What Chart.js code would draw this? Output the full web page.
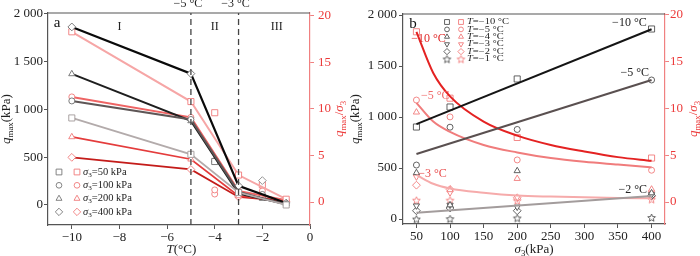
<!DOCTYPE html>
<html><head><meta charset="utf-8">
<script src="https://cdn.jsdelivr.net/npm/chart.js@4.4.0/dist/chart.umd.min.js"></script>
<style>
html,body{margin:0;padding:0;background:#fff;overflow:hidden}
#wrap{position:relative;width:700px;height:256px}
canvas{position:absolute;top:0}
</style></head><body>
<div id="wrap">
<canvas id="ca" width="350" height="256" style="left:0"></canvas>
<canvas id="cb" width="350" height="256" style="left:350px"></canvas>
</div>
<script>
// ---------- DATA ----------
// Panel a : q_max and q_max/σ3 vs T
const tempTicks = [-10, -8, -6, -4, -2, 0];
const tempsLine = [-10, -5, -3, -1];
const qA50  = [911, 530, 130, 0];
const qA100 = [1089, 895, 135, 5];
const qA200 = [1372, 880, 120, 10];
const qA400 = [1864, 1375, 200, 20];
const rA50  = [18.3, 10.8, 2.9, 0.3];
const rA100 = [11.3, 9.1, 1.2, 0.2];
const rA200 = [7.0, 4.6, 0.65, 0.15];
const rA400 = [4.8, 3.5, 0.55, 0.1];
const tempsIso = [-4, -2];
const qIso50  = [455, 80];
const qIso100 = [null, 110];
const qIso200 = [470, 85];
const qIso400 = [null, 255];
const rIso50  = [9.6, 1.85];
const rIso100 = [1.3, 1.2];
const rIso200 = [0.86, null];
const dashT = [-5, -3];
const legendA = ['50', '100', '200', '400'];

// Panel b : q_max and q_max/σ3 vs σ3
const sigma3 = [50, 100, 200, 400];
const sigmaTicks = [50, 100, 150, 200, 250, 300, 350, 400];
const qT10 = [902, 1098, 1373, 1863];
const qT5  = [529, 900, 878, 1363];
const qT4  = [453, 137, 472, 255];
const qT3  = [130, 137, 118, 240];
const qT2  = [81, 108, 81, 230];
const qT1  = [0, 3, 10, 15];
const rT10 = [18.2, 11.1, 6.9, 4.7];
const rT5  = [10.9, 9.1, 4.5, 3.4];
const rT4  = [9.6, 1.3, 2.5, 1.36];
const rT3  = [2.7, 1.0, 0.5, 0.9];
const rT2  = [1.8, 1.35, 0.45, 0.6];
const rT1  = [0.2, 0.2, 0.15, 0.3];
const fitSig = [50, 400];
const fitQ10 = [930, 1860];
const fitQ5  = [637, 1363];
const fitQ2  = [62, 225];
const curveSig = [50, 75, 100, 150, 200, 250, 300, 350, 400];
const fitR10 = [18.2, 13.8, 11.3, 8.6, 7.1, 6.1, 5.4, 4.8, 4.4];
const fitR5  = [10.6, 8.6, 7.5, 6.1, 5.3, 4.7, 4.3, 4.0, 3.7];
const fitR3  = [2.9, 1.95, 1.45, 1.0, 0.7, 0.58, 0.5, 0.44, 0.4];
const legendB = ['−10', '−5', '−4', '−3', '−2', '−1'];

const qTicks = [0, 500, 1000, 1500, 2000];
const qTickLabels = ['0', '500', '1 000', '1 500', '2 000'];
const rTicks = [0, 5, 10, 15, 20];

// ---------- HELPERS ----------
const SERIF = '"Liberation Serif", "Times New Roman", serif';
Chart.defaults.font.family = SERIF;
const minus = v => v < 0 ? '−' + Math.abs(v) : String(v);
const pts = (xs, ys) => xs.map((x, i) => ({x: x, y: ys[i]})).filter(p => p.y !== null && p.y !== undefined);

function starImg(color, R) {
  const c = document.createElement('canvas');
  const s = Math.ceil(R * 2 + 3); c.width = s; c.height = s;
  const g = c.getContext('2d');
  g.beginPath();
  for (let i = 0; i < 10; i++) {
    const r = i % 2 ? R * 0.45 : R;
    const a = -Math.PI / 2 + i * Math.PI / 5;
    g.lineTo(s / 2 + r * Math.cos(a), s / 2 + 0.5 + r * Math.sin(a));
  }
  g.closePath(); g.fillStyle = '#fff'; g.fill();
  g.strokeStyle = color; g.lineWidth = 0.9; g.stroke();
  return c;
}
const MK = {
  sq: {ps: 'rect', r: 4.3, rot: 0},
  ci: {ps: 'circle', r: 3.0, rot: 0},
  tr: {ps: 'triangle', r: 3.6, rot: 0},
  tv: {ps: 'triangle', r: 3.6, rot: 180},
  di: {ps: 'rectRot', r: 3.9, rot: 0}
};
function mk(key, color) {
  if (key === 'st') return {ps: starImg(color, 4), r: 4, rot: 0};
  return MK[key];
}
function ds(xs, ys, axis, o) {
  const m = o.mk ? mk(o.mk, o.mc) : {ps: 'circle', r: 0, rot: 0};
  return {
    data: pts(xs, ys), yAxisID: axis, showLine: !!o.line,
    borderColor: o.line || o.mc, borderWidth: o.lw || 1.5, borderDash: o.dash || [],
    pointStyle: m.ps, pointRadius: o.mk ? m.r : 0, pointRotation: m.rot,
    pointBorderColor: o.mc || '#000', pointBackgroundColor: '#fff', pointBorderWidth: 0.9,
    pointHoverRadius: 0, tension: o.tension || 0, cubicInterpolationMode: o.cubic ? 'monotone' : 'default',
    order: o.order || 0, fill: false, clip: 0
  };
}
function fontFor(p, size) {
  const s = p.sub ? size * 0.68 : size;
  return (p.it ? 'italic ' : '') + s + 'px ' + SERIF;
}
function drawRich(ctx, parts, x, y, size, color, rot, align) {
  ctx.save(); ctx.translate(x, y); ctx.rotate(rot || 0);
  let w = 0;
  for (const p of parts) { ctx.font = fontFor(p, size); w += ctx.measureText(p.t).width; }
  let cx = align === 'left' ? 0 : align === 'right' ? -w : -w / 2;
  ctx.fillStyle = color; ctx.textBaseline = 'middle'; ctx.textAlign = 'left';
  for (const p of parts) {
    ctx.font = fontFor(p, size);
    ctx.fillText(p.t, cx, p.sub ? size * 0.28 : 0);
    cx += ctx.measureText(p.t).width;
  }
  ctx.restore();
}
function drawMarker(ctx, key, color, x, y, scale) {
  const m = mk(key, color);
  ctx.save();
  ctx.strokeStyle = color; ctx.fillStyle = '#fff'; ctx.lineWidth = 0.9;
  Chart.helpers.drawPoint(ctx, {pointStyle: m.ps, radius: m.r * (scale || 1), rotation: m.rot, borderWidth: 0.9}, x, y);
  ctx.restore();
}
const tickFont = {family: SERIF, size: 13};
function axisX(min, max, ticks, h, fmt) {
  return {
    type: 'linear', min: min, max: max,
    afterBuildTicks: s => { s.ticks = ticks.map(v => ({value: v})); },
    afterFit: s => { s.height = h; },
    ticks: {callback: fmt, font: tickFont, color: '#222', padding: 1, maxRotation: 0, autoSkip: false},
    grid: {drawOnChartArea: false, drawTicks: true, tickLength: 4, color: '#555', lineWidth: 1},
    border: {color: '#555', width: 1.2}
  };
}
function axisY(min, max, ticks, w, fmt, pos, color, tcolor, pad) {
  return {
    type: 'linear', position: pos, min: min, max: max,
    afterBuildTicks: s => { s.ticks = ticks.map(v => ({value: v})); },
    afterFit: s => { s.width = w; },
    ticks: {callback: fmt, font: tickFont, color: tcolor, padding: pad, autoSkip: false},
    grid: {drawOnChartArea: false, drawTicks: true, tickLength: 4, color: color, lineWidth: 1},
    border: {color: color, width: 1.2}
  };
}
const qFmt = v => qTickLabels[qTicks.indexOf(v)];
const RED_AX = '#f08080', RED_TXT = '#ec3a3a';

// ---------- PANEL A ----------
const GRAYM = '#6e6e6e', REDM = '#f07a7a';
const dsA = [
  ds([dashT[0], dashT[0]], [-210, 2010], 'y', {line: '#444', lw: 1.3, dash: [6, 4]}),
  ds([dashT[1], dashT[1]], [-210, 2010], 'y', {line: '#444', lw: 1.3, dash: [6, 4]}),
  ds(tempsLine, qA50, 'y', {line: '#b3abab', lw: 1.8, mk: 'sq', mc: '#a09898'}),
  ds(tempsLine, qA100, 'y', {line: '#5e5656', lw: 2, mk: 'ci', mc: GRAYM}),
  ds(tempsLine, qA200, 'y', {line: '#1e1e1e', lw: 2, mk: 'tr', mc: GRAYM}),
  ds(tempsLine, qA400, 'y', {line: '#0a0a0a', lw: 2.2, mk: 'di', mc: GRAYM}),
  ds(tempsLine, rA50, 'y2', {line: '#f6a6a6', lw: 2, mk: 'sq', mc: REDM}),
  ds(tempsLine, rA100, 'y2', {line: '#ee6464', lw: 2, mk: 'ci', mc: REDM}),
  ds(tempsLine, rA200, 'y2', {line: '#e43c3c', lw: 1.8, mk: 'tr', mc: REDM}),
  ds(tempsLine, rA400, 'y2', {line: '#c41c1a', lw: 1.8, mk: 'di', mc: REDM}),
  ds(tempsIso, qIso50, 'y', {mk: 'sq', mc: GRAYM}),
  ds(tempsIso, qIso100, 'y', {mk: 'ci', mc: GRAYM}),
  ds(tempsIso, qIso200, 'y', {mk: 'tr', mc: GRAYM}),
  ds(tempsIso, qIso400, 'y', {mk: 'di', mc: '#8a8a8a'}),
  ds(tempsIso, rIso50, 'y2', {mk: 'sq', mc: REDM}),
  ds(tempsIso, rIso100, 'y2', {mk: 'ci', mc: REDM}),
  ds(tempsIso, rIso200, 'y2', {mk: 'ci', mc: REDM})
];
const plugA = {
  id: 'pa',
  afterDraw(chart) {
    const {ctx, chartArea: a, scales} = chart;
    const x = scales.x, y = scales.y;
    ctx.save();
    ctx.strokeStyle = '#555'; ctx.lineWidth = 1.2;
    ctx.beginPath(); ctx.moveTo(a.left, a.top); ctx.lineTo(a.right, a.top); ctx.stroke();
    dashT.forEach(t => drawRich(ctx, [{t: minus(t) + ' °C'}], x.getPixelForValue(t) - 3, 4, 12, '#222'));
    const ry = y.getPixelForValue(1870);
    drawRich(ctx, [{t: 'I'}], x.getPixelForValue(-8), ry, 12, '#222');
    drawRich(ctx, [{t: 'II'}], x.getPixelForValue(-4), ry, 12, '#222');
    drawRich(ctx, [{t: 'III'}], x.getPixelForValue(-1.4), ry, 12, '#222');
    drawRich(ctx, [{t: 'a'}], a.left + 9, a.top + 10, 15, '#111');
    drawRich(ctx, [{t: 'q', it: 1}, {t: 'max', sub: 1}, {t: '(kPa)'}], 7, (a.top + a.bottom) / 2, 13, '#222', -Math.PI / 2);
    drawRich(ctx, [{t: 'q', it: 1}, {t: 'max', sub: 1}, {t: '/'}, {t: 'σ', it: 1}, {t: '3', sub: 1}], 340, (a.top + a.bottom) / 2, 13, RED_TXT, -Math.PI / 2);
    drawRich(ctx, [{t: 'T', it: 1}, {t: '(°C)'}], x.getPixelForValue(-5.4), 250, 13, '#222');
    const keys = ['sq', 'ci', 'tr', 'di'];
    legendA.forEach((s, i) => {
      const ly = a.top + 159 + i * 13.3;
      drawMarker(ctx, keys[i], '#777', 59, ly, 0.95);
      drawMarker(ctx, keys[i], REDM, 77, ly, 0.95);
      drawRich(ctx, [{t: 'σ', it: 1}, {t: '3', sub: 1}, {t: '=' + s + ' kPa'}], 83, ly, 10.5, '#222', 0, 'left');
    });
    ctx.restore();
  }
};
new Chart(document.getElementById('ca'), {
  type: 'scatter',
  data: {datasets: dsA},
  options: {
    responsive: false, animation: false, events: [],
    layout: {padding: {top: 13, left: 0, right: 0, bottom: 0}},
    plugins: {legend: {display: false}, tooltip: {enabled: false}},
    scales: {
      x: axisX(-11, 0, tempTicks, 31, v => minus(v)),
      y: axisY(-210, 2010, qTicks, 48, qFmt, 'left', '#555', '#222', 1),
      y2: axisY(-2.47, 20.32, rTicks, 40, v => String(v), 'right', RED_AX, RED_TXT, 4)
    }
  },
  plugins: [plugA]
});

// ---------- PANEL B ----------
const BM = '#505050', RM = '#f27c7c';
const dsB = [
  ds(fitSig, fitQ10, 'y', {line: '#151515', lw: 2}),
  ds(fitSig, fitQ5, 'y', {line: '#5a5050', lw: 2}),
  ds(fitSig, fitQ2, 'y', {line: '#a39c9c', lw: 2}),
  ds(curveSig, fitR10, 'y2', {line: '#e42222', lw: 2, tension: 0.4, cubic: 1}),
  ds(curveSig, fitR5, 'y2', {line: '#f07c7c', lw: 2, tension: 0.4, cubic: 1}),
  ds(curveSig, fitR3, 'y2', {line: '#f6abab', lw: 2, tension: 0.4, cubic: 1}),
  ds(sigma3, qT10, 'y', {mk: 'sq', mc: BM}),
  ds(sigma3, qT5, 'y', {mk: 'ci', mc: BM}),
  ds(sigma3, qT4, 'y', {mk: 'tr', mc: BM}),
  ds(sigma3, qT3, 'y', {mk: 'tv', mc: BM}),
  ds(sigma3, qT2, 'y', {mk: 'di', mc: BM}),
  ds(sigma3, qT1, 'y', {mk: 'st', mc: BM}),
  ds(sigma3, rT10, 'y2', {mk: 'sq', mc: RM}),
  ds(sigma3, rT5, 'y2', {mk: 'ci', mc: RM}),
  ds(sigma3, rT4, 'y2', {mk: 'tr', mc: RM}),
  ds(sigma3, rT3, 'y2', {mk: 'tv', mc: RM}),
  ds(sigma3, rT2, 'y2', {mk: 'di', mc: RM}),
  ds(sigma3, rT1, 'y2', {mk: 'st', mc: RM})
];
const plugB = {
  id: 'pb',
  afterDraw(chart) {
    const {ctx, chartArea: a, scales} = chart;
    const x = scales.x, y = scales.y, y2 = scales.y2;
    ctx.save();
    ctx.strokeStyle = '#555'; ctx.lineWidth = 1.2;
    ctx.beginPath(); ctx.moveTo(a.left, a.top); ctx.lineTo(a.right, a.top); ctx.stroke();
    drawRich(ctx, [{t: 'b'}], a.left + 10, a.top + 10, 15, '#111');
    drawRich(ctx, [{t: '−10 °C'}], x.getPixelForValue(367), y.getPixelForValue(1921), 12, '#222');
    drawRich(ctx, [{t: '−5 °C'}], x.getPixelForValue(375), y.getPixelForValue(1431), 12, '#222');
    drawRich(ctx, [{t: '−2 °C'}], x.getPixelForValue(372), y.getPixelForValue(284), 12, '#222');
    drawRich(ctx, [{t: '−10 °C'}], x.getPixelForValue(68), y2.getPixelForValue(17.4), 12, '#e02828');
    drawRich(ctx, [{t: '−5 °C'}], x.getPixelForValue(78), y2.getPixelForValue(11.3), 12, '#f06a6a');
    drawRich(ctx, [{t: '−3 °C'}], x.getPixelForValue(74), y2.getPixelForValue(3.0), 12, '#e84a4a');
    drawRich(ctx, [{t: 'q', it: 1}, {t: 'max', sub: 1}, {t: '(kPa)'}], 6, (a.top + a.bottom) / 2, 13, '#222', -Math.PI / 2);
    drawRich(ctx, [{t: 'q', it: 1}, {t: 'max', sub: 1}, {t: '/'}, {t: 'σ', it: 1}, {t: '3', sub: 1}], 344, (a.top + a.bottom) / 2, 13, RED_TXT, -Math.PI / 2);
    drawRich(ctx, [{t: 'σ', it: 1}, {t: '3', sub: 1}, {t: '(kPa)'}], x.getPixelForValue(225), 250, 13, '#222');
    const keys = ['sq', 'ci', 'tr', 'tv', 'di', 'st'];
    legendB.forEach((s, i) => {
      const ly = a.top + 8 + i * 7.4;
      drawMarker(ctx, keys[i], BM, 97, ly, 0.8);
      drawMarker(ctx, keys[i], RM, 111, ly, 0.8);
      ctx.save();
      ctx.translate(117, ly); ctx.scale(1, 0.78);
      drawRich(ctx, [{t: 'T', it: 1}, {t: '=' + s + ' °C'}], 0, 0, 10.5, '#222', 0, 'left');
      ctx.restore();
    });
    ctx.restore();
  }
};
new Chart(document.getElementById('cb'), {
  type: 'scatter',
  data: {datasets: dsB},
  options: {
    responsive: false, animation: false, events: [],
    layout: {padding: {top: 14, left: 0, right: 0, bottom: 0}},
    plugins: {legend: {display: false}, tooltip: {enabled: false}},
    scales: {
      x: axisX(30, 420, sigmaTicks, 32, v => String(v)),
      y: axisY(-49, 2010, qTicks, 53, qFmt, 'left', '#555', '#222', 2),
      y2: axisY(-2.35, 20.1, rTicks, 35, v => String(v), 'right', RED_AX, RED_TXT, 1)
    }
  },
  plugins: [plugB]
});
</script>
</body></html>
